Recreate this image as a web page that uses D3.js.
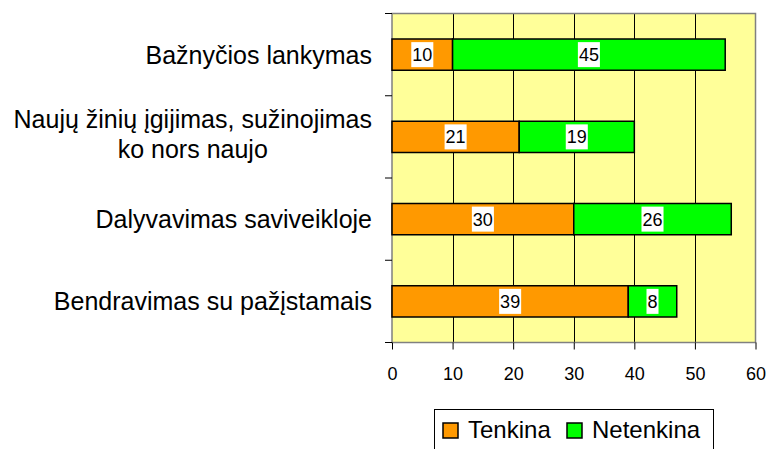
<!DOCTYPE html>
<html>
<head>
<meta charset="utf-8">
<script src="https://cdn.jsdelivr.net/npm/d3@7"></script>
<style>
  body { margin: 0; background: #fff; }
  svg { font-family: "Liberation Sans", Arial, sans-serif; }
</style>
</head>
<body>
<div id="chart"></div>
<script>
// chart data
var categories = [
  ["Bažnyčios lankymas"],
  ["Naujų žinių įgijimas, sužinojimas", "ko nors naujo"],
  ["Dalyvavimas saviveikloje"],
  ["Bendravimas su pažįstamais"]
];
var tenkina = [10, 21, 30, 39];
var netenkina = [45, 19, 26, 8];
var seriesNames = ["Tenkina", "Netenkina"];
var seriesColors = ["#ff9900", "#00ff00"];
var xTicks = [0, 10, 20, 30, 40, 50, 60];

var width = 769, height = 449;
var plot = { left: 392, right: 755.5, top: 13.5, bottom: 342.5 };

var svg = d3.select("#chart").append("svg")
  .attr("width", width)
  .attr("height", height);

var x = d3.scaleLinear().domain([0, 60]).range([plot.left, plot.right]);
var y = d3.scaleBand()
  .domain(d3.range(categories.length))
  .range([plot.top, plot.bottom])
  .paddingInner(0.62)
  .paddingOuter(0.31);

// plot background
svg.append("rect")
  .attr("x", plot.left).attr("y", plot.top)
  .attr("width", plot.right - plot.left).attr("height", plot.bottom - plot.top)
  .attr("fill", "#ffff99");

// vertical gridlines
svg.append("g").selectAll("line")
  .data(xTicks.slice(1, -1))
  .enter().append("line")
  .attr("x1", function(d) { return Math.round(x(d)) + 0.5; })
  .attr("x2", function(d) { return Math.round(x(d)) + 0.5; })
  .attr("y1", plot.top).attr("y2", plot.bottom)
  .attr("stroke", "#000").attr("stroke-width", 1);

// plot border
svg.append("rect")
  .attr("x", plot.left).attr("y", plot.top)
  .attr("width", plot.right - plot.left).attr("height", plot.bottom - plot.top)
  .attr("fill", "none").attr("stroke", "#808080").attr("stroke-width", 1.5);

// stacked bars
var rows = categories.map(function(c, i) {
  return [
    { i: i, s: 0, x0: 0, x1: tenkina[i], v: tenkina[i] },
    { i: i, s: 1, x0: tenkina[i], x1: tenkina[i] + netenkina[i], v: netenkina[i] }
  ];
});
var segs = [].concat.apply([], rows);

svg.append("g").selectAll("rect")
  .data(segs)
  .enter().append("rect")
  .attr("x", function(d) { return x(d.x0); })
  .attr("y", function(d) { return y(d.i); })
  .attr("width", function(d) { return x(d.x1) - x(d.x0); })
  .attr("height", y.bandwidth())
  .attr("fill", function(d) { return seriesColors[d.s]; })
  .attr("stroke", "#000").attr("stroke-width", 1.5);

// value labels with white boxes
var labels = svg.append("g").selectAll("g")
  .data(segs)
  .enter().append("g")
  .attr("transform", function(d) {
    return "translate(" + (x(d.x0) + x(d.x1)) / 2 + "," + (y(d.i) + y.bandwidth() / 2) + ")";
  });
labels.append("text")
  .attr("text-anchor", "middle")
  .attr("dy", "0.36em")
  .style("font-size", "18px")
  .text(function(d) { return d.v; });
labels.each(function() {
  var g = d3.select(this);
  var bb = g.select("text").node().getBBox();
  g.insert("rect", "text")
    .attr("x", bb.x - 1).attr("y", -12.5)
    .attr("width", bb.width + 2).attr("height", 25)
    .attr("fill", "#fff");
});

// y axis: category boundary ticks
var bounds = d3.range(categories.length + 1).map(function(i) {
  return plot.top + i * (plot.bottom - plot.top) / categories.length;
});
svg.append("g").selectAll("line")
  .data(bounds)
  .enter().append("line")
  .attr("x1", plot.left - 7).attr("x2", plot.left)
  .attr("y1", function(d) { return d; }).attr("y2", function(d) { return d; })
  .attr("stroke", "#000");

// category labels
var catText = svg.append("g").selectAll("text")
  .data(categories)
  .enter().append("text")
  .attr("text-anchor", "middle")
  .style("font-size", "25px")
  .attr("transform", function(d, i) {
    return "translate(0," + (y(i) + y.bandwidth() / 2) + ")";
  });
catText.each(function(lines) {
  var t = d3.select(this);
  var n = lines.length;
  var maxW = 0;
  lines.forEach(function(l, k) {
    var ts = t.append("tspan")
      .attr("y", (k - (n - 1) / 2) * 30 + (n > 1 ? 6 : 9))
      .text(l);
    maxW = Math.max(maxW, ts.node().getComputedTextLength());
  });
  // right-align the block, centre lines within it
  t.selectAll("tspan").attr("x", 372 - maxW / 2);
});

// x axis
var xAxis = d3.axisBottom(x).tickValues(xTicks).tickSize(7).tickFormat(d3.format("d"));
var gx = svg.append("g")
  .attr("transform", "translate(0," + plot.bottom + ")")
  .call(xAxis);
gx.select(".domain").remove();
gx.selectAll(".tick line").attr("stroke", "#000");
gx.selectAll(".tick text")
  .attr("y", 37.5)
  .attr("dy", null)
  .style("font-size", "18px")
  .style("font-family", "Liberation Sans, Arial, sans-serif")
  .attr("fill", "#000");

// legend
var legend = svg.append("g");
legend.append("rect")
  .attr("x", 434.5).attr("y", 409.5)
  .attr("width", 279).attr("height", 50)
  .attr("fill", "#fff").attr("stroke", "#000");
var items = [{ x: 443 }, { x: 567 }];
seriesNames.forEach(function(name, i) {
  legend.append("rect")
    .attr("x", items[i].x).attr("y", 423)
    .attr("width", 15).attr("height", 15)
    .attr("fill", seriesColors[i]).attr("stroke", "#000").attr("stroke-width", 1.5);
  legend.append("text")
    .attr("x", items[i].x + 25).attr("y", 438)
    .style("font-size", "24px")
    .text(name);
});
</script>
</body>
</html>
